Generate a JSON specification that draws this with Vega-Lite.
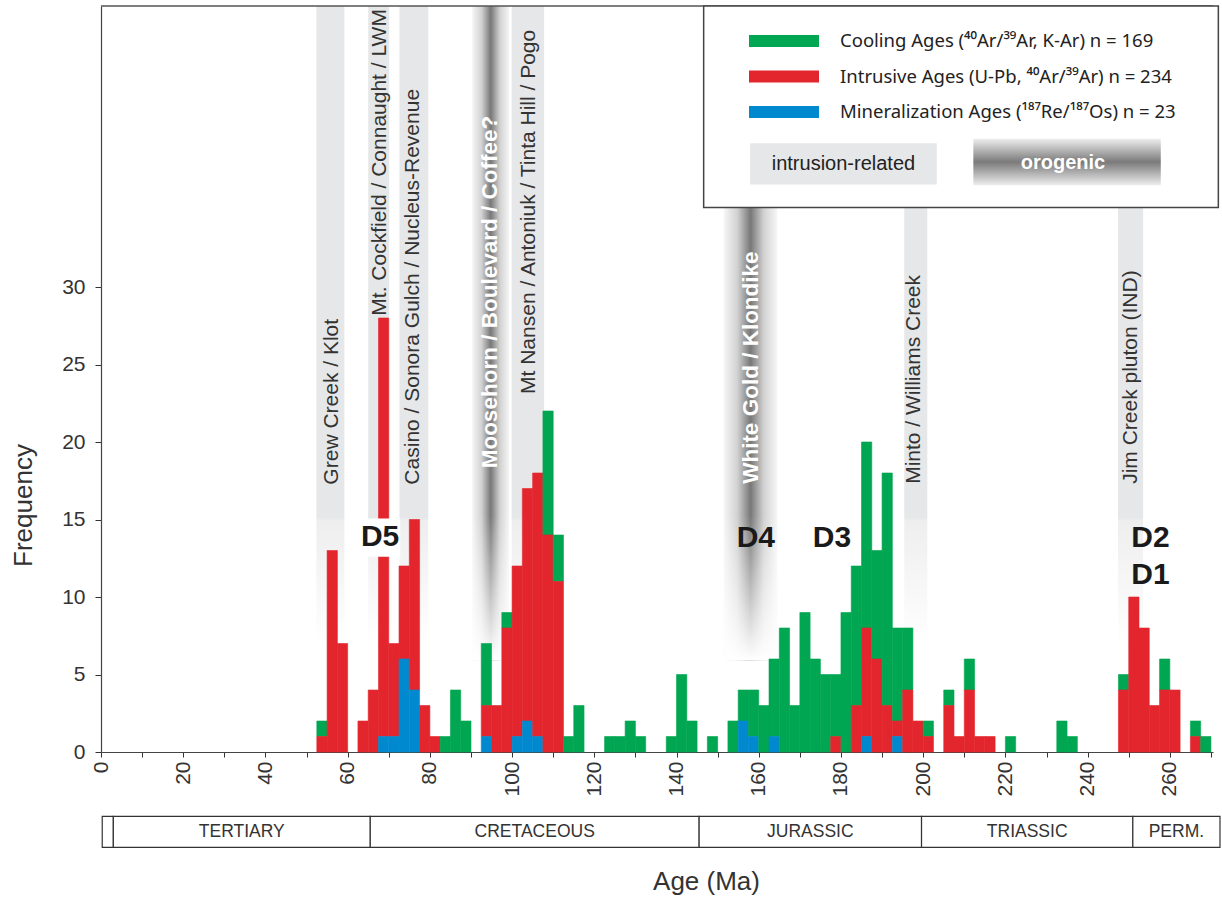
{
  "$schema": "https://vega.github.io/schema/vega-lite/v6.json",
  "width": 1112,
  "height": 746,
  "autosize": {"type": "none"},
  "padding": {"left": 101, "top": 6, "right": 9, "bottom": 147},
  "background": "white",
  "config": {"font": "Liberation Sans", "view": {"stroke": null}, "axis": {"grid": false}, "scale": {"continuousPadding": 0}},
  "datasets": {
    "bars": [
      {"a0": 52.5, "a1": 55, "s": "C", "n": 1}, {"a0": 52.5, "a1": 55, "s": "I", "n": 1},
      {"a0": 55, "a1": 57.5, "s": "I", "n": 13},
      {"a0": 57.5, "a1": 60, "s": "I", "n": 7},
      {"a0": 62.5, "a1": 65, "s": "I", "n": 2},
      {"a0": 65, "a1": 67.5, "s": "I", "n": 4},
      {"a0": 67.5, "a1": 70, "s": "I", "n": 27}, {"a0": 67.5, "a1": 70, "s": "M", "n": 1},
      {"a0": 70, "a1": 72.5, "s": "I", "n": 6}, {"a0": 70, "a1": 72.5, "s": "M", "n": 1},
      {"a0": 72.5, "a1": 75, "s": "I", "n": 6}, {"a0": 72.5, "a1": 75, "s": "M", "n": 6},
      {"a0": 75, "a1": 77.5, "s": "I", "n": 11}, {"a0": 75, "a1": 77.5, "s": "M", "n": 4},
      {"a0": 77.5, "a1": 80, "s": "I", "n": 3},
      {"a0": 80, "a1": 82.5, "s": "I", "n": 1},
      {"a0": 82.5, "a1": 85, "s": "C", "n": 1},
      {"a0": 85, "a1": 87.5, "s": "C", "n": 4},
      {"a0": 87.5, "a1": 90, "s": "C", "n": 2},
      {"a0": 92.5, "a1": 95, "s": "C", "n": 4}, {"a0": 92.5, "a1": 95, "s": "I", "n": 2}, {"a0": 92.5, "a1": 95, "s": "M", "n": 1},
      {"a0": 95, "a1": 97.5, "s": "I", "n": 3},
      {"a0": 97.5, "a1": 100, "s": "C", "n": 1}, {"a0": 97.5, "a1": 100, "s": "I", "n": 8},
      {"a0": 100, "a1": 102.5, "s": "I", "n": 11}, {"a0": 100, "a1": 102.5, "s": "M", "n": 1},
      {"a0": 102.5, "a1": 105, "s": "I", "n": 15}, {"a0": 102.5, "a1": 105, "s": "M", "n": 2},
      {"a0": 105, "a1": 107.5, "s": "I", "n": 17}, {"a0": 105, "a1": 107.5, "s": "M", "n": 1},
      {"a0": 107.5, "a1": 110, "s": "C", "n": 8}, {"a0": 107.5, "a1": 110, "s": "I", "n": 14},
      {"a0": 110, "a1": 112.5, "s": "C", "n": 3}, {"a0": 110, "a1": 112.5, "s": "I", "n": 11},
      {"a0": 112.5, "a1": 115, "s": "C", "n": 1},
      {"a0": 115, "a1": 117.5, "s": "C", "n": 3},
      {"a0": 122.5, "a1": 125, "s": "C", "n": 1},
      {"a0": 125, "a1": 127.5, "s": "C", "n": 1},
      {"a0": 127.5, "a1": 130, "s": "C", "n": 2},
      {"a0": 130, "a1": 132.5, "s": "C", "n": 1},
      {"a0": 137.5, "a1": 140, "s": "C", "n": 1},
      {"a0": 140, "a1": 142.5, "s": "C", "n": 5},
      {"a0": 142.5, "a1": 145, "s": "C", "n": 2},
      {"a0": 147.5, "a1": 150, "s": "C", "n": 1},
      {"a0": 152.5, "a1": 155, "s": "C", "n": 2},
      {"a0": 155, "a1": 157.5, "s": "C", "n": 2}, {"a0": 155, "a1": 157.5, "s": "M", "n": 2},
      {"a0": 157.5, "a1": 160, "s": "C", "n": 3}, {"a0": 157.5, "a1": 160, "s": "M", "n": 1},
      {"a0": 160, "a1": 162.5, "s": "C", "n": 3},
      {"a0": 162.5, "a1": 165, "s": "C", "n": 5}, {"a0": 162.5, "a1": 165, "s": "M", "n": 1},
      {"a0": 165, "a1": 167.5, "s": "C", "n": 8},
      {"a0": 167.5, "a1": 170, "s": "C", "n": 3},
      {"a0": 170, "a1": 172.5, "s": "C", "n": 9},
      {"a0": 172.5, "a1": 175, "s": "C", "n": 6},
      {"a0": 175, "a1": 177.5, "s": "C", "n": 5},
      {"a0": 177.5, "a1": 180, "s": "C", "n": 4}, {"a0": 177.5, "a1": 180, "s": "I", "n": 1},
      {"a0": 180, "a1": 182.5, "s": "C", "n": 9},
      {"a0": 182.5, "a1": 185, "s": "C", "n": 9}, {"a0": 182.5, "a1": 185, "s": "I", "n": 3},
      {"a0": 185, "a1": 187.5, "s": "C", "n": 12}, {"a0": 185, "a1": 187.5, "s": "I", "n": 7}, {"a0": 185, "a1": 187.5, "s": "M", "n": 1},
      {"a0": 187.5, "a1": 190, "s": "C", "n": 7}, {"a0": 187.5, "a1": 190, "s": "I", "n": 6},
      {"a0": 190, "a1": 192.5, "s": "C", "n": 15}, {"a0": 190, "a1": 192.5, "s": "I", "n": 3},
      {"a0": 192.5, "a1": 195, "s": "C", "n": 6}, {"a0": 192.5, "a1": 195, "s": "I", "n": 1}, {"a0": 192.5, "a1": 195, "s": "M", "n": 1},
      {"a0": 195, "a1": 197.5, "s": "C", "n": 4}, {"a0": 195, "a1": 197.5, "s": "I", "n": 4},
      {"a0": 197.5, "a1": 200, "s": "I", "n": 2},
      {"a0": 200, "a1": 202.5, "s": "C", "n": 1}, {"a0": 200, "a1": 202.5, "s": "I", "n": 1},
      {"a0": 205, "a1": 207.5, "s": "C", "n": 1}, {"a0": 205, "a1": 207.5, "s": "I", "n": 3},
      {"a0": 207.5, "a1": 210, "s": "I", "n": 1},
      {"a0": 210, "a1": 212.5, "s": "C", "n": 2}, {"a0": 210, "a1": 212.5, "s": "I", "n": 4},
      {"a0": 212.5, "a1": 215, "s": "I", "n": 1},
      {"a0": 215, "a1": 217.5, "s": "I", "n": 1},
      {"a0": 220, "a1": 222.5, "s": "C", "n": 1},
      {"a0": 232.5, "a1": 235, "s": "C", "n": 2},
      {"a0": 235, "a1": 237.5, "s": "C", "n": 1},
      {"a0": 247.5, "a1": 250, "s": "C", "n": 1}, {"a0": 247.5, "a1": 250, "s": "I", "n": 4},
      {"a0": 250, "a1": 252.5, "s": "I", "n": 10},
      {"a0": 252.5, "a1": 255, "s": "I", "n": 8},
      {"a0": 255, "a1": 257.5, "s": "I", "n": 3},
      {"a0": 257.5, "a1": 260, "s": "C", "n": 2}, {"a0": 257.5, "a1": 260, "s": "I", "n": 4},
      {"a0": 260, "a1": 262.5, "s": "I", "n": 4},
      {"a0": 265, "a1": 267.5, "s": "C", "n": 1}, {"a0": 265, "a1": 267.5, "s": "I", "n": 1},
      {"a0": 267.5, "a1": 270, "s": "C", "n": 1}
    ],
    "bands": [
      {"a0": 52.4, "a1": 59.2, "k": "i"},
      {"a0": 65.0, "a1": 70.1, "k": "i"},
      {"a0": 72.6, "a1": 79.6, "k": "i"},
      {"a0": 99.9, "a1": 107.8, "k": "i"},
      {"a0": 195.4, "a1": 201.0, "k": "i"},
      {"a0": 247.4, "a1": 253.5, "k": "i"},
      {"a0": 90.3, "a1": 99.3, "k": "o"},
      {"a0": 151.5, "a1": 164.5, "k": "o"}
    ],
    "labels": [
      {"a": 56.1, "f": 17.25, "t": "Grew Creek / Klot", "k": "i"},
      {"a": 67.9, "f": 28.15, "t": "Mt. Cockfield / Connaught / LWM", "k": "i"},
      {"a": 76.0, "f": 17.25, "t": "Casino / Sonora Gulch / Nucleus-Revenue", "k": "i"},
      {"a": 94.7, "f": 18.3, "t": "Moosehorn / Boulevard / Coffee?", "k": "o"},
      {"a": 104.0, "f": 23.1, "t": "Mt Nansen / Antoniuk / Tinta Hill / Pogo", "k": "i"},
      {"a": 158.1, "f": 17.3, "t": "White Gold / Klondike", "k": "o"},
      {"a": 197.8, "f": 17.3, "t": "Minto / Williams Creek", "k": "i"},
      {"a": 250.6, "f": 17.3, "t": "Jim Creek pluton (IND)", "k": "i"}
    ],
    "dlabels": [
      {"a": 67.9, "f": 13.85, "t": "D5"},
      {"a": 159.3, "f": 13.8, "t": "D4"},
      {"a": 177.8, "f": 13.8, "t": "D3"},
      {"a": 255.3, "f": 13.8, "t": "D2"},
      {"a": 255.3, "f": 11.45, "t": "D1"}
    ],
    "periods": [
      {"a0": 0.3, "a1": 3, "t": ""},
      {"a0": 3, "a1": 65.5, "t": "TERTIARY"},
      {"a0": 65.5, "a1": 145.5, "t": "CRETACEOUS"},
      {"a0": 145.5, "a1": 199.6, "t": "JURASSIC"},
      {"a0": 199.6, "a1": 251, "t": "TRIASSIC"},
      {"a0": 251, "a1": 272.2, "t": "PERM."}
    ]
  },
  "layer": [
    {
      "data": {"name": "bands"},
      "transform": [{"filter": "datum.k == 'i'"}],
      "mark": {"type": "rect", "fill": {"gradient": "linear", "x1": 0, "y1": 0, "x2": 0, "y2": 1,
        "stops": [{"offset": 0, "color": "#e6e7e8"}, {"offset": 0.8, "color": "#e6e7e8"}, {"offset": 0.805, "color": "#eeeeee"}, {"offset": 1, "color": "#ffffff"}]}},
      "encoding": {
        "x": {"field": "a0", "type": "quantitative"},
        "x2": {"field": "a1"},
        "y": {"datum": 48.13, "type": "quantitative"},
        "y2": {"datum": 6.88}
      }
    },
    {
      "data": {"name": "bands"},
      "transform": [{"filter": "datum.k == 'o'"}],
      "mark": {"type": "rect", "fill": {"gradient": "linear", "x1": 0, "y1": 0, "x2": 1, "y2": 0,
        "stops": [{"offset": 0, "color": "#f6f6f6"}, {"offset": 0.25, "color": "#d2d2d2"}, {"offset": 0.5, "color": "#787878"}, {"offset": 0.75, "color": "#d2d2d2"}, {"offset": 1, "color": "#f6f6f6"}]}},
      "encoding": {
        "x": {"field": "a0", "type": "quantitative"},
        "x2": {"field": "a1"},
        "y": {"datum": 48.13, "type": "quantitative"},
        "y2": {"datum": 5.9}
      }
    },
    {
      "data": {"name": "bands"},
      "transform": [{"filter": "datum.k == 'o'"}],
      "mark": {"type": "rect", "fill": {"gradient": "linear", "x1": 0, "y1": 0, "x2": 0, "y2": 1,
        "stops": [{"offset": 0, "color": "rgba(255,255,255,0)"}, {"offset": 1, "color": "rgba(255,255,255,1)"}]}},
      "encoding": {
        "x": {"field": "a0", "type": "quantitative"},
        "x2": {"field": "a1"},
        "y": {"datum": 15.3, "type": "quantitative"},
        "y2": {"datum": 5.9}
      }
    },
    {
      "data": {"name": "bars"},
      "mark": {"type": "bar", "orient": "vertical", "strokeWidth": 0.6},
      "encoding": {
        "x": {
          "field": "a0", "type": "quantitative",
          "scale": {"domain": [0, 270.5], "nice": false, "zero": false, "padding": 0},
          "axis": {
            "values": [0, 10, 20, 30, 40, 50, 60, 70, 80, 90, 100, 110, 120, 130, 140, 150, 160, 170, 180, 190, 200, 210, 220, 230, 240, 250, 260, 270],
            "labelExpr": "datum.value % 20 === 0 ? datum.label : ''",
            "labelAngle": 270, "labelFontSize": 21, "labelColor": "#333", "labelPadding": 4,
            "tickSize": 5, "tickColor": "#333", "domainColor": "#444", "domainWidth": 1.2,
            "title": "Age (Ma)", "titleFontSize": 26, "titleFontWeight": "normal", "titleColor": "#333",
            "titleX": 605, "titleY": 137, "titleAlign": "center", "titleBaseline": "alphabetic"
          }
        },
        "x2": {"field": "a1"},
        "y": {
          "field": "n", "type": "quantitative", "stack": "zero",
          "scale": {"domain": [0, 48.13], "nice": false, "padding": 0},
          "axis": {
            "values": [0, 5, 10, 15, 20, 25, 30],
            "labelFontSize": 21, "labelColor": "#333", "labelPadding": 10,
            "tickSize": 6, "tickColor": "#333", "domainColor": "#444", "domainWidth": 1.2,
            "title": "Frequency", "titleFontSize": 26, "titleFontWeight": "normal", "titleColor": "#333",
            "titleX": -78, "titleY": 499, "titleAlign": "center", "titleBaseline": "middle", "titleAngle": 270
          }
        },
        "order": {"field": "s", "sort": "descending"},
        "stroke": {
          "field": "s", "type": "nominal",
          "scale": {"domain": ["C", "I", "M"], "range": ["#00a651", "#e3262d", "#0089cf"]},
          "legend": null
        },
        "color": {
          "field": "s", "type": "nominal",
          "scale": {"domain": ["C", "I", "M"], "range": ["#00a651", "#e3262d", "#0089cf"]},
          "legend": {
            "orient": "none", "legendX": 665.5, "legendY": 17.5, "title": null, "padding": 0,
            "symbolType": "M-2,-0.34H2V0.34H-2Z", "symbolSize": 1225, "symbolStrokeWidth": 0, "symbolOpacity": 1,
            "labelFontSize": 18.5, "labelColor": "#222", "labelFont": "Noto Sans", "labelOffset": 38.5, "labelLimit": 600,
            "rowPadding": 8.5,
            "labelExpr": "datum.label == 'C' ? 'Cooling Ages (⁴⁰Ar/³⁹Ar, K-Ar) n = 169' : datum.label == 'I' ? 'Intrusive Ages (U-Pb, ⁴⁰Ar/³⁹Ar) n = 234' : 'Mineralization Ages (¹⁸⁷Re/¹⁸⁷Os) n = 23'"
          }
        }
      }
    },
    {
      "data": {"values": [{}]},
      "mark": {"type": "rect", "fill": "white"},
      "encoding": {
        "x": {"datum": 62.6, "type": "quantitative"},
        "x2": {"datum": 72.8},
        "y": {"datum": 15.07, "type": "quantitative"},
        "y2": {"datum": 12.6}
      }
    },
    {
      "data": {"values": [{}]},
      "mark": {"type": "rule", "stroke": "#555", "strokeWidth": 1.5},
      "encoding": {
        "x": {"datum": 0, "type": "quantitative"},
        "x2": {"datum": 270.5},
        "y": {"datum": 48.13, "type": "quantitative"}
      }
    },
    {
      "data": {"name": "periods"},
      "mark": {"type": "rect", "fill": "white", "stroke": "#333", "strokeWidth": 1.2},
      "encoding": {
        "x": {"field": "a0", "type": "quantitative"},
        "x2": {"field": "a1"},
        "y": {"datum": -4.15, "type": "quantitative"},
        "y2": {"datum": -6.15}
      }
    },
    {
      "data": {"name": "periods"},
      "transform": [{"calculate": "(datum.a0 + datum.a1) / 2", "as": "mid"}],
      "mark": {"type": "text", "fontSize": 17.5, "color": "#333", "align": "center", "baseline": "middle"},
      "encoding": {
        "x": {"field": "mid", "type": "quantitative"},
        "y": {"datum": -5.15, "type": "quantitative"},
        "text": {"field": "t"}
      }
    },
    {
      "data": {"name": "labels"},
      "transform": [{"filter": "datum.k == 'i'"}],
      "mark": {"type": "text", "fontSize": 21, "color": "#333", "angle": 270, "align": "left", "baseline": "middle"},
      "encoding": {
        "x": {"field": "a", "type": "quantitative"},
        "y": {"field": "f", "type": "quantitative"},
        "text": {"field": "t"}
      }
    },
    {
      "data": {"name": "labels"},
      "transform": [{"filter": "datum.k == 'o'"}],
      "mark": {"type": "text", "fontSize": 22.5, "fontWeight": "bold", "color": "white", "angle": 270, "align": "left", "baseline": "middle"},
      "encoding": {
        "x": {"field": "a", "type": "quantitative"},
        "y": {"field": "f", "type": "quantitative"},
        "text": {"field": "t"}
      }
    },
    {
      "data": {"name": "dlabels"},
      "mark": {"type": "text", "fontSize": 30, "fontWeight": "bold", "color": "#1a1a1a", "align": "center", "baseline": "middle"},
      "encoding": {
        "x": {"field": "a", "type": "quantitative"},
        "y": {"field": "f", "type": "quantitative"},
        "text": {"field": "t"}
      }
    },
    {
      "data": {"values": [{}]},
      "mark": {"type": "rect", "fill": "white", "stroke": "#444", "strokeWidth": 1.5},
      "encoding": {
        "x": {"datum": 146.6, "type": "quantitative"},
        "x2": {"datum": 271.8},
        "y": {"datum": 48.13, "type": "quantitative"},
        "y2": {"datum": 35.13}
      }
    },
    {
      "data": {"values": [{}]},
      "mark": {"type": "rect", "fill": "#e6e7e8"},
      "encoding": {
        "x": {"datum": 157.9, "type": "quantitative"},
        "x2": {"datum": 203.3},
        "y": {"datum": 39.28, "type": "quantitative"},
        "y2": {"datum": 36.61}
      }
    },
    {
      "data": {"values": [{}]},
      "mark": {"type": "rect", "fill": {"gradient": "linear", "x1": 0, "y1": 0, "x2": 0, "y2": 1,
        "stops": [{"offset": 0, "color": "#eeeeee"}, {"offset": 0.5, "color": "#7a7a7a"}, {"offset": 1, "color": "#eeeeee"}]}},
      "encoding": {
        "x": {"datum": 212.2, "type": "quantitative"},
        "x2": {"datum": 257.8},
        "y": {"datum": 39.57, "type": "quantitative"},
        "y2": {"datum": 36.56}
      }
    },
    {
      "data": {"values": [{"t": "intrusion-related"}]},
      "mark": {"type": "text", "fontSize": 20, "color": "#222", "align": "center", "baseline": "middle"},
      "encoding": {
        "x": {"datum": 180.6, "type": "quantitative"},
        "y": {"datum": 37.95, "type": "quantitative"},
        "text": {"field": "t"}
      }
    },
    {
      "data": {"values": [{"t": "orogenic"}]},
      "mark": {"type": "text", "fontSize": 20, "fontWeight": "bold", "color": "white", "align": "center", "baseline": "middle"},
      "encoding": {
        "x": {"datum": 234.0, "type": "quantitative"},
        "y": {"datum": 38.0, "type": "quantitative"},
        "text": {"field": "t"}
      }
    }
  ]
}
